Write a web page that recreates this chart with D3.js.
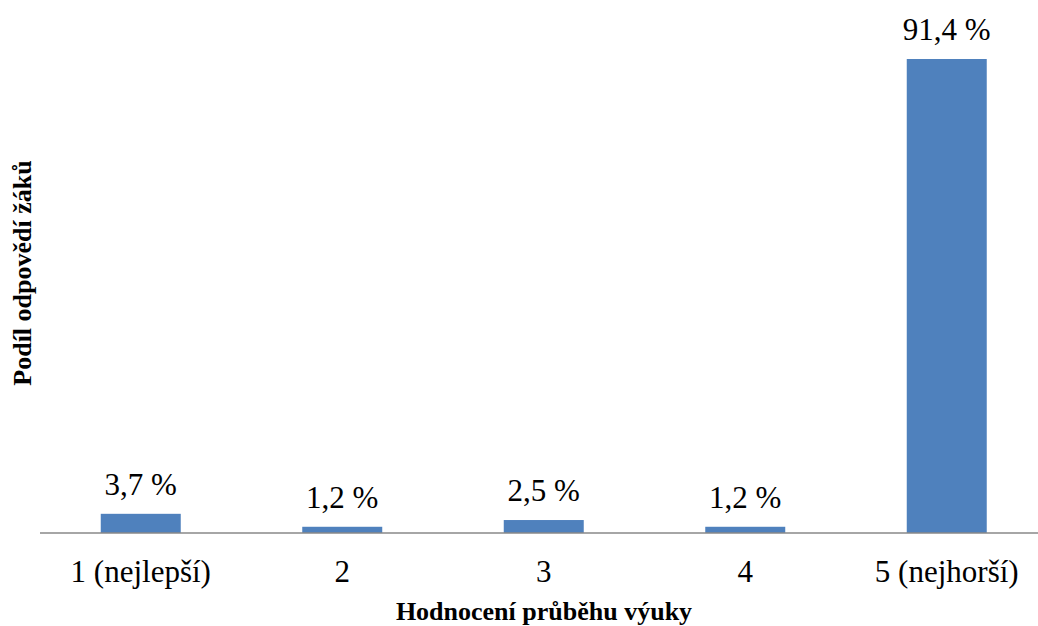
<!DOCTYPE html>
<html>
<head>
<meta charset="utf-8">
<script src="https://cdn.jsdelivr.net/npm/d3@7"></script>
<style>
  html, body { margin: 0; padding: 0; background: #fff; }
  svg { display: block; }
  text { font-family: "Liberation Serif", "Times New Roman", serif; fill: #000; }
</style>
</head>
<body>
<svg id="chart" width="1038" height="626"></svg>
<script>
const categories = ["1 (nejlepší)", "2", "3", "4", "5 (nejhorší)"];
const values = [3.7, 1.2, 2.5, 1.2, 91.4];
const valueLabels = ["3,7 %", "1,2 %", "2,5 %", "1,2 %", "91,4 %"];
const xTitle = "Hodnocení průběhu výuky";
const yTitle = "Podíl odpovědí žáků";

const svg = d3.select("#chart");
const baseY = 533, topY = 59;

const x = d3.scaleBand()
  .domain(categories)
  .range([40, 1047.5])
  .paddingInner(0.603)
  .paddingOuter(0.3015);

const y = d3.scaleLinear()
  .domain([0, 91.4])
  .range([baseY, topY]);

svg.append("g").selectAll("rect")
  .data(values)
  .join("rect")
  .attr("x", (d, i) => x(categories[i]))
  .attr("width", x.bandwidth())
  .attr("y", d => y(d))
  .attr("height", d => baseY - y(d))
  .attr("fill", "#4f81bd");

svg.append("g").selectAll("text")
  .data(values)
  .join("text")
  .attr("x", (d, i) => x(categories[i]) + x.bandwidth() / 2)
  .attr("y", d => y(d) - 19)
  .attr("text-anchor", "middle")
  .style("font-size", "31px")
  .text((d, i) => valueLabels[i]);

const xAxis = svg.append("g")
  .attr("transform", `translate(0,${baseY})`)
  .call(d3.axisBottom(x).tickSize(0).tickPadding(0));
xAxis.select(".domain").attr("stroke", "#898989").attr("stroke-width", 1.5)
  .attr("d", "M40,0H1038");
xAxis.selectAll(".tick text")
  .attr("dy", 0)
  .attr("y", 49)
  .style("font-size", "31px")
  .style("font-family", '"Liberation Serif", "Times New Roman", serif')
  .attr("fill", "#000");

svg.append("text")
  .attr("x", 544)
  .attr("y", 620)
  .attr("text-anchor", "middle")
  .style("font-size", "26px")
  .style("font-weight", "bold")
  .text(xTitle);

svg.append("text")
  .attr("transform", "translate(31,273) rotate(-90)")
  .attr("text-anchor", "middle")
  .style("font-size", "26px")
  .style("font-weight", "bold")
  .text(yTitle);
</script>
</body>
</html>
